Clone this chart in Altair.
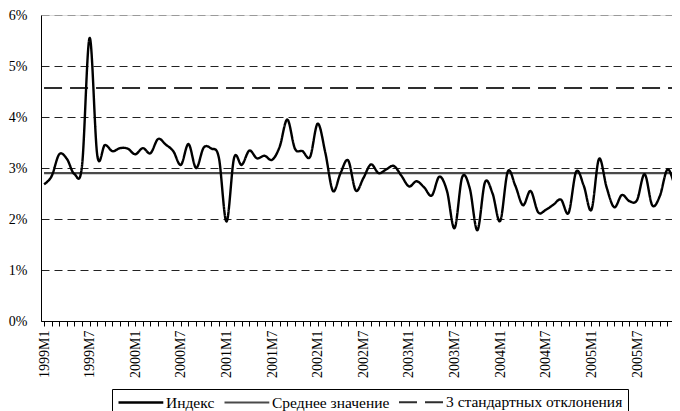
import json
import altair as alt
import pandas as pd

SERIF = "Liberation Serif"

# Tick labels shown every 6 months (1999M1 ... 2005M7)
tick_labels = ["1999M1", "1999M7", "2000M1", "2000M7", "2001M1", "2001M7", "2002M1",
               "2002M7", "2003M1", "2003M7", "2004M1", "2004M7", "2005M1", "2005M7"]

# Monthly index values, % (1999M1 ... 2006M1)
index_values = [2.68, 2.84, 3.27, 3.18, 2.88, 3.05, 5.55, 3.25, 3.45, 3.33,
                3.39, 3.38, 3.27, 3.39, 3.29, 3.57, 3.46, 3.33, 3.06, 3.47,
                3.00, 3.40, 3.38, 3.20, 1.95, 3.20, 3.06, 3.34, 3.19, 3.24,
                3.16, 3.42, 3.95, 3.38, 3.33, 3.22, 3.87, 3.30, 2.55, 2.90,
                3.15, 2.56, 2.80, 3.07, 2.90, 2.97, 3.04, 2.85, 2.64, 2.74,
                2.62, 2.46, 2.83, 2.55, 1.82, 2.82, 2.60, 1.78, 2.72, 2.50,
                1.96, 2.93, 2.65, 2.27, 2.55, 2.13, 2.18, 2.28, 2.38, 2.12,
                2.93, 2.65, 2.18, 3.18, 2.62, 2.23, 2.47, 2.35, 2.37, 2.88,
                2.27, 2.45, 2.97, 2.65, 2.30]

mean_value = 2.90
std3_value = 4.57

series_names = ["Индекс", "Среднее значение", "3 стандартных отклонения"]

n = len(index_values)
months = list(range(n))

rows = [{"m": m, "v": v, "series": series_names[0]} for m, v in zip(months, index_values)]
rows += [{"m": m, "v": mean_value, "series": series_names[1]} for m in (months[0], months[-1])]
rows += [{"m": m, "v": std3_value, "series": series_names[2]} for m in (months[0], months[-1])]
df = pd.DataFrame(rows)

label_expr = ("datum.value % 6 === 0 && datum.value / 6 < " + str(len(tick_labels))
              + " ? " + json.dumps(tick_labels, ensure_ascii=False)
              + "[datum.value / 6] : ''")

legend = alt.Legend(
    title=None,
    orient="none", legendX=71, legendY=374, direction="horizontal",
    strokeColor="black", fillColor="white", padding=5,
    symbolType="M-1,0H5.4", symbolSize=196,
    labelFont=SERIF, labelFontSize=15.5, labelColor="black",
    labelOffset=32, columnPadding=5, labelLimit=0, cornerRadius=0,
)

x = alt.X("m:Q", scale=alt.Scale(domain=[-0.4, 82.6], nice=False, zero=False),
          axis=alt.Axis(title=None, values=months[:83], labelExpr=label_expr,
                        labelAngle=-90, labelFont=SERIF, labelFontSize=14,
                        labelColor="black", tickColor="black", tickSize=5,
                        domainColor="black", domainWidth=1, labelPadding=4,
                        grid=False, labelOverlap=False, labelFlush=False,
                        labelBound=False))
y = alt.Y("v:Q", scale=alt.Scale(domain=[0, 6], nice=False),
          axis=alt.Axis(title=None, values=[0, 1, 2, 3, 4, 5, 6],
                        labelExpr="datum.value + '%'", labelFont=SERIF,
                        labelFontSize=14, labelColor="black", ticks=False,
                        labelPadding=14, domainColor="black", domainWidth=1,
                        grid=True, gridDash=[8, 5], gridWidth=1,
                        gridColor={"condition": {"test": "datum.value >= 6", "value": "#9a9a9a"},
                                   "value": "#222222"}))

color = alt.Color("series:N", scale=alt.Scale(domain=series_names,
                                               range=["#000000", "#4a4a4a", "#2e2e2e"]),
                  legend=legend)
dash = alt.StrokeDash("series:N", scale=alt.Scale(domain=series_names,
                                                   range=[[1, 0], [1, 0], [18, 8]]),
                      legend=legend)
width = alt.StrokeWidth("series:N", scale=alt.Scale(domain=series_names,
                                                     range=[2.4, 2.0, 4.0]),
                        legend=legend)

base = alt.Chart(df).mark_line(interpolate="cardinal", tension=0, clip=True).encode(
    x=x, y=y, color=color, strokeDash=dash, strokeWidth=width)

layers = [base.transform_filter(alt.datum.series == s) for s in reversed(series_names)]

chart = alt.layer(*layers).properties(
    width=631, height=306,
    autosize=alt.AutoSizeParams(type="none"),
    padding={"left": 33, "top": 7, "right": 0, "bottom": 102},
).configure_view(stroke=None).configure_legend(
    labelFont=SERIF, titleFont=SERIF
).configure(background="white")

chart.save("out.html", embed_options={"renderer": "svg", "actions": False})
